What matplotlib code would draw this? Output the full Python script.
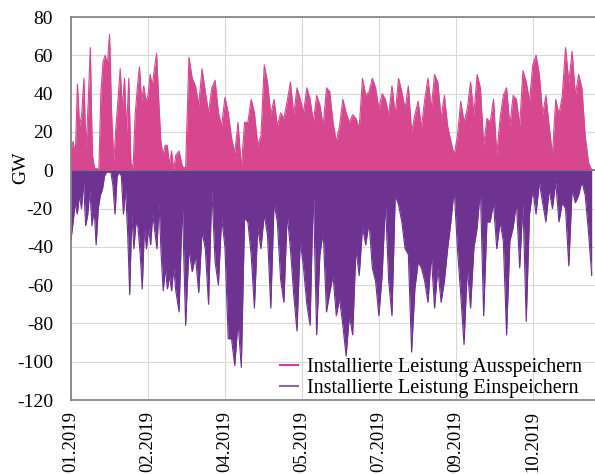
import numpy as np
import matplotlib
matplotlib.use('Agg')
import matplotlib.pyplot as plt
from matplotlib.lines import Line2D

plt.rcParams['font.family'] = ['Liberation Serif', 'DejaVu Serif']
plt.rcParams['axes.unicode_minus'] = False

aus_1 = [11, 15, 8, 45, 23, 29, 48, 11, 34, 64, 8, 1, 1, 0, 41, 57, 60, 55, 71, 29,
         4, 23, 37, 53, 32, 48, 20, 48, 4, 1, 29, 43, 54, 36, 44, 36, 39, 50, 44, 53,
         61, 37, 15, 8, 13, 13, 3, 10, 0]
aus_2 = [8, 10, 2, 1, 59, 48, 44, 34, 53, 41, 30, 43, 47, 30, 23, 38, 30, 17, 9, 25,
         1, 25, 25, 37, 30, 13, 18, 55, 46, 29, 37, 23]
aus_3 = [30, 27, 36, 46, 29, 43, 37, 30, 43, 37, 25, 39, 34, 23, 43, 41, 25, 15, 23, 37,
         30, 25, 29, 27, 22, 48, 39, 41, 48, 43, 32, 40]
aus_4 = [37, 29, 44, 29, 48, 41, 32, 44, 20, 29, 36, 22, 37, 48, 32, 50, 46, 27, 39, 23,
         15, 8, 18, 36, 25, 32, 46, 29, 50, 43, 13, 27]
aus_5 = [25, 37, 8, 27, 39, 43, 23, 39, 37, 23, 52, 46, 36, 55, 60, 50, 29, 39, 23, 8,
         37, 29, 39, 64, 46, 62, 39, 50, 43, 18, 4, 0]

# Installierte Leistung Einspeichern (GW)
ein_1 = [-36, -27, -17, -23, -13, -20, -6, -29, -23, -10, -29, -20, -39, -20, -13, -10, -3, -1, -1, -1,
         -8, -23, -3, -1, -3, -23, -10, -32, -65, -23, -41, -27, -30, -44, -62, -30, -41, -30, -39, -23,
         -32, -41, -17, -44, -63, -51, -62, -55, -63, -51]
ein_2 = [-63, -74, -17, -81, -41, -53, -45, -64, -32, -41, -70, -10, -48, -60, -25, -40, -88, -88, -102, -79,
         -103, -25, -27, -44, -72, -30, -41, -23, -34, -72, -17, -27]
ein_3 = [-57, -69, -23, -41, -65, -84, -37, -51, -70, -81, -10, -86, -44, -32, -74, -64, -55, -76, -67, -81,
         -97, -76, -86, -41, -55, -30, -39, -27, -51, -58, -76, -55]
ein_4 = [-17, -58, -76, -13, -18, -27, -41, -44, -95, -62, -48, -51, -58, -69, -44, -72, -51, -69, -58, -41,
         -27, -10, -41, -65, -91, -51, -72, -41, -30, -10, -76, -27]
ein_5 = [-27, -17, -41, -27, -37, -86, -37, -30, -17, -51, -17, -79, -23, -10, -23, -6, -17, -27, -10, -20,
         -6, -27, -17, -20, -50, -10, -17, -13, -6, -13, -32, -55]

tick_days = [0, 49, 98, 147, 196, 245, 294]
tick_labels = ['01.2019', '02.2019', '04.2019', '05.2019', '07.2019', '09.2019', '10.2019']
y_ticks = [-120, -100, -80, -60, -40, -20, 0, 20, 40, 60, 80]

PINK = '#D6478F'
PURPLE = '#6E3290'
SHOWN_DAYS = 333.5


def to_timeline(segments):
    """Legt die Fenster hintereinander auf die Tagesachse."""
    width = SHOWN_DAYS / len(segments)
    xs, ys = [], []
    for i, seg in enumerate(segments):
        xs.append(np.linspace(i * width, (i + 1) * width, len(seg), endpoint=False))
        ys.append(np.asarray(seg, dtype=float))
    return np.concatenate(xs), np.concatenate(ys)


x_aus, y_aus = to_timeline([aus_1, aus_2, aus_3, aus_4, aus_5])
x_ein, y_ein = to_timeline([ein_1, ein_2, ein_3, ein_4, ein_5])

fig = plt.figure(figsize=(5.95, 4.74), dpi=100)
ax = fig.add_axes([71 / 595, 1 - 400 / 474, 1 - 71 / 595, (400 - 17) / 474])

ax.fill_between(x_aus, 0, y_aus, color=PINK, lw=0, zorder=2)
ax.plot(x_aus, y_aus, color=PINK, lw=0.8, zorder=2)
ax.fill_between(x_ein, 0, y_ein, color=PURPLE, lw=0, zorder=2)
ax.plot(x_ein, y_ein, color=PURPLE, lw=0.8, zorder=2)
ax.axhline(0, color='#8a6a8c', lw=1.3, zorder=3)

ax.set_xlim(0, SHOWN_DAYS)
ax.set_ylim(-120, 80)
ax.set_yticks(y_ticks)
ax.set_yticklabels([str(v) for v in y_ticks], fontsize=14)
ax.set_xticks(tick_days)
ax.set_xticklabels(tick_labels, rotation=90, fontsize=13.5, va='top')
ax.tick_params(length=0)
ax.tick_params(axis='y', pad=13)
ax.tick_params(axis='x', pad=8)
ax.grid(True, color='#d9d9d9', lw=0.8, zorder=0)
ax.set_axisbelow(True)

for side in ['left', 'top', 'bottom']:
    ax.spines[side].set_color('#7f7f7f')
    ax.spines[side].set_linewidth(1.2)
ax.spines['right'].set_visible(False)

ax.set_ylabel('GW', fontsize=14)
ax.yaxis.set_label_coords(-0.079, 0.606)

handles = [Line2D([], [], color='#E0379D', lw=1.5),
           Line2D([], [], color='#8C6AA6', lw=1.5)]
ax.legend(handles, ['Installierte Leistung Ausspeichern', 'Installierte Leistung Einspeichern'],
          loc='lower left', bbox_to_anchor=(0.399, 0.005), frameon=False, fontsize=14.5,
          handlelength=0.9, handletextpad=0.45, labelspacing=0.1, borderpad=0, borderaxespad=0)

fig.savefig('out.png', dpi=100)
